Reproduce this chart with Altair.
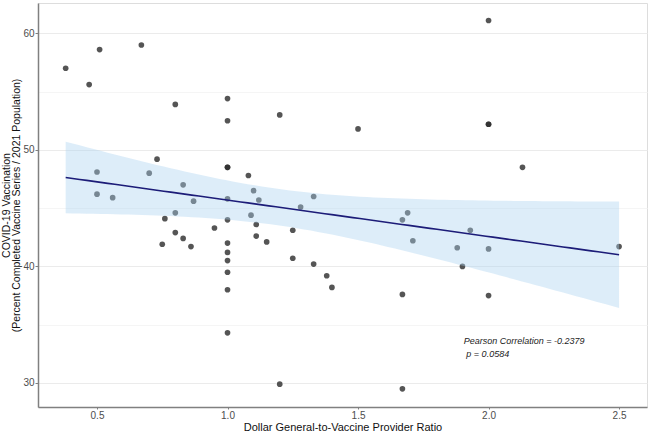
import altair as alt
import numpy as np
import pandas as pd

# Dollar General-to-Vaccine Provider Ratio (x) and COVID-19 vaccination % (y)
ratio = [0.38, 0.47, 0.51, 0.67, 0.80, 0.73, 0.50, 0.70, 0.50, 0.56,
         0.83, 0.87, 0.80, 0.76, 0.80, 0.83, 0.75, 0.86, 0.95, 1.00,
         1.00, 1.08, 1.00, 1.10, 1.12, 1.00, 1.09, 1.11, 1.11, 1.15,
         1.28, 1.33, 1.25, 1.00, 1.00, 1.00, 1.00, 1.25, 1.33, 1.38,
         1.40, 1.67, 1.00, 1.00, 1.20, 1.67, 1.67, 1.69, 1.71, 1.00,
         1.00, 1.20, 1.50, 2.00, 2.00, 2.00, 2.13, 1.93, 1.88, 2.00,
         1.90, 2.00, 2.50]
vacc = [57.0, 55.6, 58.6, 59.0, 53.9, 49.2, 48.1, 48.0, 46.2, 45.9,
        47.0, 45.6, 44.6, 44.1, 42.9, 42.4, 41.9, 41.7, 43.3, 48.5,
        48.5, 47.8, 45.8, 46.5, 45.7, 44.0, 44.4, 43.6, 42.6, 42.1,
        45.1, 46.0, 43.1, 42.0, 41.2, 40.5, 39.5, 40.7, 40.2, 39.2,
        38.2, 37.6, 38.0, 34.3, 29.9, 29.5, 44.0, 44.6, 42.2, 54.4,
        52.5, 53.0, 51.8, 61.1, 52.2, 52.2, 48.5, 43.1, 41.6, 41.5,
        40.0, 37.5, 41.7]

x_ticks = [0.5, 1.0, 1.5, 2.0, 2.5]
y_grid = [30, 35, 40, 45, 50, 55, 60]
annot_x = [1.905, 1.915]
annot_y = [33.6, 32.5]
annot_text = ["Pearson Correlation = -0.2379", "p = 0.0584"]

pts = pd.DataFrame({"ratio": ratio, "vacc": vacc})

# linear fit with 95% confidence band (as geom_smooth(method="lm"))
xa = np.array(ratio)
ya = np.array(vacc)
n = len(xa)
b, a = np.polyfit(xa, ya, 1)
resid = ya - (a + b * xa)
s = np.sqrt(np.sum(resid ** 2) / (n - 2))
sxx = np.sum((xa - xa.mean()) ** 2)
xg = np.linspace(xa.min(), xa.max(), 80)
fit = a + b * xg
se = s * np.sqrt(1 / n + (xg - xa.mean()) ** 2 / sxx)
tq = 2.0
band = pd.DataFrame({"ratio": xg, "fit": fit, "lo": fit - tq * se, "hi": fit + tq * se})

xscale = alt.Scale(domain=[0.274, 2.607], nice=False, zero=False)
yscale = alt.Scale(domain=[27.94, 62.6], nice=False, zero=False)

xaxis = alt.Axis(values=x_ticks, format=".1f", title="Dollar General-to-Vaccine Provider Ratio",
                 grid=False, domainColor="#808080", domainWidth=1.5, tickColor="#808080",
                 tickSize=2, labelColor="#4d4d4d", labelFontSize=10, labelPadding=1,
                 titleFontSize=11, titleFontWeight="normal", titleColor="#111111", titlePadding=1)
yaxis = alt.Axis(values=y_grid, labelExpr="datum.value % 10 == 0 ? datum.label : ''",
                 title=["COVID-19 Vaccination", "(Percent Completed Vaccine Series / 2021 Population)"],
                 grid=True,
                 gridColor={"condition": {"test": "datum.value % 10 == 0", "value": "#ebebeb"}, "value": "#f5f5f5"},
                 tickOpacity={"condition": {"test": "datum.value % 10 == 0", "value": 1}, "value": 0},
                 domainColor="#808080", domainWidth=1.5, tickColor="#808080", tickSize=3,
                 labelColor="#4d4d4d", labelFontSize=10, labelPadding=1,
                 titleFontSize=10.5, titleFontWeight="normal", titleColor="#111111",
                 titleLineHeight=10, titlePadding=1)

points = alt.Chart(pts).mark_circle(size=32, color="#2b2b2b", opacity=0.8).encode(
    x=alt.X("ratio:Q", scale=xscale, axis=xaxis),
    y=alt.Y("vacc:Q", scale=yscale, axis=yaxis),
)

area = alt.Chart(band).mark_area(color="#a9d3f0", opacity=0.4).encode(
    x="ratio:Q", y="lo:Q", y2="hi:Q"
)

line = alt.Chart(band).mark_line(color="#1c1c78", strokeWidth=1.6).encode(
    x="ratio:Q", y="fit:Q"
)

annot = alt.Chart(pd.DataFrame({"x": annot_x, "y": annot_y, "t": annot_text})).mark_text(
    align="left", baseline="middle", fontStyle="italic", fontSize=9, color="#222222",
    font="Liberation Sans"
).encode(x="x:Q", y="y:Q", text="t:N")

chart = alt.layer(points, area, line, annot).properties(
    width=609, height=404,
    autosize=alt.AutoSizeParams(type="none"),
    padding={"left": 38, "top": 3, "right": 3, "bottom": 26},
).configure_view(stroke=None).configure(font="Liberation Sans", background="white")

chart.save("out.html", embed_options={"renderer": "svg", "actions": False})
